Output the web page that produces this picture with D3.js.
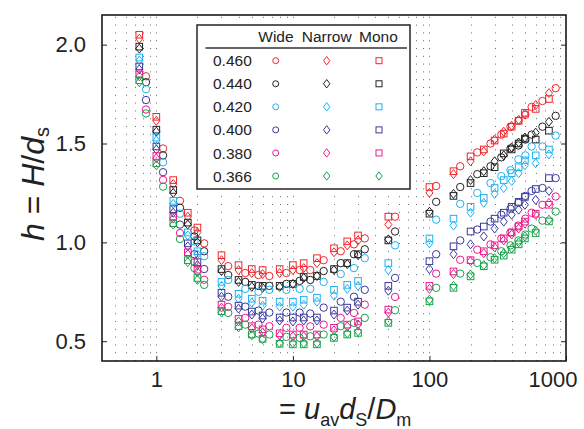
<!DOCTYPE html>
<html><head><meta charset="utf-8">
<script src="https://cdn.jsdelivr.net/npm/d3@7"></script>
<style>
body{margin:0;background:#fff}
svg{display:block}
text{font-family:"Liberation Sans",Arial,Helvetica,sans-serif;fill:#222}
</style>
</head><body>
<svg id="chart" width="584" height="429"></svg>
<script>
// Porosity levels and their colours
const levels = ["0.460", "0.440", "0.420", "0.400", "0.380", "0.366"];
const colors = ["#f0262c", "#222222", "#1fb1f2", "#3a3a9c", "#ec1a8d", "#19a24c"];
// Mono legend symbol per level (the last row shows a diamond)
const legendMonoShape = ["square", "square", "square", "square", "square", "diamond"];

// Pe values for Narrow / Mono packings
const xNM = [0.75, 1.0, 1.33, 1.7, 2.0, 3, 4, 5, 6, 8, 10, 12, 15, 20, 25, 30, 50,
  100, 150, 200, 250, 300, 350, 400, 450, 500, 600, 750];
// Pe values for Wide packings
const xWide = [0.84, 1.12, 1.49, 1.9, 2.24, 3.36, 4.48, 5.6, 6.72, 8.96, 11.2, 13.4, 16.8, 22.4, 28, 33.6, 56,
  112, 168, 224, 280, 336, 392, 448, 504, 560, 672, 840];

// Reduced plate height h, one row per porosity level
const monoH = [
  [2.05, 1.635, 1.315, 1.15, 1.075, 0.935, 0.885, 0.865, 0.86, 0.865, 0.885, 0.895, 0.92, 0.97, 1.005, 1.035, 1.13, 1.28, 1.36, 1.435, 1.47, 1.515, 1.55, 1.585, 1.615, 1.655, 1.675, 1.725],
  [1.99, 1.57, 1.265, 1.10, 1.01, 0.865, 0.81, 0.785, 0.78, 0.78, 0.79, 0.825, 0.83, 0.865, 0.895, 0.94, 1.01, 1.145, 1.235, 1.30, 1.35, 1.38, 1.45, 1.47, 1.50, 1.525, 1.52, 1.565],
  [1.935, 1.53, 1.21, 1.05, 0.955, 0.80, 0.74, 0.715, 0.705, 0.70, 0.70, 0.71, 0.72, 0.76, 0.785, 0.805, 0.895, 1.02, 1.12, 1.18, 1.225, 1.275, 1.315, 1.35, 1.38, 1.415, 1.44, 1.47],
  [1.89, 1.485, 1.168, 0.995, 0.90, 0.745, 0.68, 0.65, 0.63, 0.62, 0.62, 0.62, 0.62, 0.655, 0.67, 0.70, 0.78, 0.905, 0.98, 1.055, 1.08, 1.12, 1.15, 1.18, 1.205, 1.23, 1.27, 1.325],
  [1.85, 1.437, 1.13, 0.95, 0.862, 0.685, 0.613, 0.576, 0.56, 0.54, 0.534, 0.534, 0.534, 0.568, 0.584, 0.60, 0.66, 0.78, 0.853, 0.91, 0.955, 0.985, 1.02, 1.05, 1.08, 1.105, 1.145, 1.19],
  [1.82, 1.40, 1.097, 0.91, 0.82, 0.652, 0.576, 0.534, 0.512, 0.487, 0.484, 0.484, 0.484, 0.517, 0.534, 0.542, 0.593, 0.702, 0.77, 0.828, 0.879, 0.912, 0.933, 0.963, 0.99, 1.02, 1.047, 1.106]
];
const narrowH = [
  [2.03, 1.615, 1.295, 1.13, 1.05, 0.91, 0.86, 0.845, 0.84, 0.845, 0.86, 0.87, 0.895, 0.95, 0.985, 1.01, 1.09, 1.25, 1.345, 1.41, 1.46, 1.52, 1.56, 1.59, 1.62, 1.65, 1.695, 1.755],
  [1.98, 1.56, 1.25, 1.09, 1.00, 0.855, 0.80, 0.775, 0.77, 0.775, 0.79, 0.82, 0.83, 0.86, 0.89, 0.935, 1.015, 1.155, 1.245, 1.315, 1.36, 1.41, 1.44, 1.48, 1.505, 1.53, 1.555, 1.61],
  [1.92, 1.515, 1.195, 1.035, 0.94, 0.78, 0.715, 0.695, 0.68, 0.675, 0.675, 0.685, 0.70, 0.73, 0.765, 0.78, 0.86, 0.995, 1.085, 1.15, 1.20, 1.245, 1.275, 1.31, 1.35, 1.39, 1.40, 1.445],
  [1.875, 1.47, 1.15, 0.98, 0.885, 0.725, 0.665, 0.635, 0.615, 0.605, 0.60, 0.605, 0.605, 0.635, 0.655, 0.685, 0.755, 0.865, 0.94, 0.99, 1.03, 1.07, 1.105, 1.14, 1.165, 1.19, 1.215, 1.26],
  [1.84, 1.425, 1.12, 0.94, 0.85, 0.67, 0.60, 0.565, 0.545, 0.53, 0.525, 0.525, 0.525, 0.555, 0.575, 0.585, 0.645, 0.765, 0.84, 0.905, 0.945, 0.975, 1.01, 1.04, 1.07, 1.095, 1.14, 1.20],
  [1.81, 1.39, 1.09, 0.90, 0.81, 0.645, 0.57, 0.53, 0.51, 0.49, 0.49, 0.49, 0.49, 0.522, 0.54, 0.55, 0.60, 0.71, 0.78, 0.838, 0.885, 0.92, 0.945, 0.97, 1.00, 1.03, 1.06, 1.115]
];
const wideH = [
  [1.84, 1.475, 1.21, 1.06, 0.995, 0.88, 0.845, 0.835, 0.83, 0.845, 0.86, 0.86, 0.91, 0.955, 0.99, 1.02, 1.13, 1.285, 1.385, 1.455, 1.50, 1.545, 1.585, 1.615, 1.645, 1.685, 1.715, 1.78],
  [1.81, 1.44, 1.175, 1.03, 0.955, 0.835, 0.80, 0.78, 0.78, 0.79, 0.805, 0.81, 0.855, 0.895, 0.94, 0.965, 1.055, 1.205, 1.28, 1.345, 1.385, 1.43, 1.475, 1.49, 1.52, 1.545, 1.585, 1.64],
  [1.775, 1.405, 1.145, 1.005, 0.93, 0.81, 0.765, 0.75, 0.76, 0.76, 0.765, 0.765, 0.80, 0.84, 0.87, 0.92, 0.985, 1.115, 1.195, 1.25, 1.30, 1.335, 1.365, 1.42, 1.44, 1.485, 1.485, 1.54],
  [1.72, 1.355, 1.09, 0.94, 0.865, 0.725, 0.675, 0.655, 0.645, 0.645, 0.645, 0.64, 0.67, 0.70, 0.725, 0.76, 0.82, 0.94, 1.01, 1.065, 1.105, 1.14, 1.17, 1.20, 1.235, 1.26, 1.275, 1.325],
  [1.672, 1.316, 1.047, 0.90, 0.811, 0.674, 0.618, 0.584, 0.576, 0.568, 0.568, 0.575, 0.584, 0.618, 0.643, 0.685, 0.724, 0.842, 0.912, 0.963, 0.99, 1.02, 1.05, 1.085, 1.12, 1.15, 1.19, 1.232],
  [1.652, 1.282, 1.017, 0.87, 0.785, 0.643, 0.584, 0.539, 0.534, 0.522, 0.517, 0.525, 0.534, 0.576, 0.593, 0.618, 0.657, 0.77, 0.842, 0.896, 0.925, 0.955, 0.985, 1.01, 1.04, 1.07, 1.11, 1.156]
];

const xMajor = [1, 10, 100, 1000];
const yTicks = [0.5, 1.0, 1.5, 2.0];

const svg = d3.select("#chart");
const L = 102, R = 566, T = 15, B = 361;
const x = d3.scaleLog().domain([0.4, 1000]).range([L, R]);
const y = d3.scaleLinear().domain([0.4, 2.15]).range([B, T]);

// dotted vertical grid at every decade subdivision
const gridVals = x.ticks().filter(v => v > 0.4 && v < 1000);
svg.append("g").selectAll("line").data(gridVals).join("line")
  .attr("x1", d => Math.round(x(d)) + 0.5).attr("x2", d => Math.round(x(d)) + 0.5)
  .attr("y1", B).attr("y2", T)
  .attr("stroke", "#6a6a6a").attr("stroke-width", 1)
  .attr("stroke-dasharray", "1,6.8");

// marker shapes
function diamondPath(w, h) {
  return `M0,${-h/2}L${w/2},0L0,${h/2}L${-w/2},0Z`;
}
const plot = svg.append("g");
levels.forEach((lv, i) => {
  const c = colors[i];
  plot.append("g").selectAll("circle").data(xWide.map((xv, j) => [xv, wideH[i][j]])).join("circle")
    .attr("cx", d => x(d[0])).attr("cy", d => y(d[1])).attr("r", 3.7)
    .attr("fill", "none").attr("stroke", c).attr("stroke-width", 1);
  plot.append("g").selectAll("rect").data(xNM.map((xv, j) => [xv, monoH[i][j]])).join("rect")
    .attr("x", d => x(d[0]) - 3.3).attr("y", d => y(d[1]) - 3.3)
    .attr("width", 6.6).attr("height", 6.6)
    .attr("fill", "none").attr("stroke", c).attr("stroke-width", 1);
  plot.append("g").selectAll("path").data(xNM.map((xv, j) => [xv, narrowH[i][j]])).join("path")
    .attr("transform", d => `translate(${x(d[0])},${y(d[1])})`)
    .attr("d", diamondPath(7, 9))
    .attr("fill", "none").attr("stroke", c).attr("stroke-width", 1);
});

// axes with inward ticks
const axL = svg.append("g").attr("transform", `translate(${L},0)`)
  .call(d3.axisLeft(y).tickValues(yTicks).tickSize(-5).tickPadding(16).tickFormat(d3.format(".1f")));
axL.select(".domain").remove();
axL.selectAll("text").attr("font-size", 22).attr("font-family", "Liberation Sans, Arial, sans-serif").attr("fill", "#222");
axL.selectAll("line").attr("stroke", "#222");

const axR = svg.append("g").attr("transform", `translate(${R},0)`)
  .call(d3.axisRight(y).tickValues(yTicks).tickSize(-5).tickFormat(""));
axR.select(".domain").remove();
axR.selectAll("line").attr("stroke", "#222");

const axB = svg.append("g").attr("transform", `translate(0,${B})`)
  .call(d3.axisBottom(x).tickValues(xMajor).tickSize(-5).tickPadding(10.5).tickFormat(d3.format("d")));
axB.select(".domain").remove();
axB.selectAll("text").attr("font-size", 22).attr("font-family", "Liberation Sans, Arial, sans-serif").attr("fill", "#222");
axB.selectAll("line").attr("stroke", "#222");
axB.selectAll(".tick").filter(d => d === 1000).select("text")
  .attr("text-anchor", "end").attr("dx", 11);

// frame
svg.append("rect").attr("x", L).attr("y", T).attr("width", R - L).attr("height", B - T)
  .attr("fill", "none").attr("stroke", "#1a1a1a").attr("stroke-width", 1.6);

// legend
const lg = svg.append("g");
lg.append("rect").attr("x", 197).attr("y", 25).attr("width", 213).attr("height", 164)
  .attr("fill", "#fff").attr("stroke", "#333").attr("stroke-width", 1.6);
const colX = [275.7, 326.7, 379];
lg.append("text").attr("x", 258.3).attr("y", 42).attr("font-size", 15.5).text("Wide");
lg.append("text").attr("x", 301.7).attr("y", 42).attr("font-size", 15.5).text("Narrow");
lg.append("text").attr("x", 359).attr("y", 42).attr("font-size", 15.5).text("Mono");
lg.append("line").attr("x1", 205.5).attr("x2", 407).attr("y1", 48).attr("y2", 48)
  .attr("stroke", "#333").attr("stroke-width", 1.3);
levels.forEach((lv, i) => {
  const ry = 60.7 + i * 23.06;
  const c = colors[i];
  lg.append("text").attr("x", 213).attr("y", ry + 5.6).attr("font-size", 15.5).text(lv);
  lg.append("circle").attr("cx", colX[0]).attr("cy", ry).attr("r", 3)
    .attr("fill", "none").attr("stroke", c).attr("stroke-width", 1);
  lg.append("path").attr("transform", `translate(${colX[1]},${ry})`).attr("d", diamondPath(6.4, 8.4))
    .attr("fill", "none").attr("stroke", c).attr("stroke-width", 1);
  if (legendMonoShape[i] === "square") {
    lg.append("rect").attr("x", colX[2] - 3).attr("y", ry - 3).attr("width", 6).attr("height", 6)
      .attr("fill", "none").attr("stroke", c).attr("stroke-width", 1);
  } else {
    lg.append("path").attr("transform", `translate(${colX[2]},${ry})`).attr("d", diamondPath(6.4, 8.4))
      .attr("fill", "none").attr("stroke", c).attr("stroke-width", 1);
  }
});

// axis titles
const yt = svg.append("text").attr("transform", "translate(44,184) rotate(-90)")
  .attr("text-anchor", "middle").attr("font-size", 32);
yt.append("tspan").attr("font-style", "italic").text("h");
yt.append("tspan").text(" = ");
yt.append("tspan").attr("font-style", "italic").text("H");
yt.append("tspan").text("/");
yt.append("tspan").attr("font-style", "italic").text("d");
yt.append("tspan").attr("font-size", 20).attr("dy", 5).text("s");

const xt = svg.append("text").attr("x", 279).attr("y", 419).attr("font-size", 29);
xt.append("tspan").text("= ");
xt.append("tspan").attr("font-style", "italic").text("u");
xt.append("tspan").attr("font-size", 18).attr("dy", 7).text("av");
xt.append("tspan").attr("font-style", "italic").attr("dy", -7).text("d");
xt.append("tspan").attr("font-size", 18).attr("dy", 7).text("S");
xt.append("tspan").attr("dy", -7).text("/");
xt.append("tspan").attr("font-style", "italic").text("D");
xt.append("tspan").attr("font-size", 18).attr("dy", 7).text("m");
</script>
</body></html>
